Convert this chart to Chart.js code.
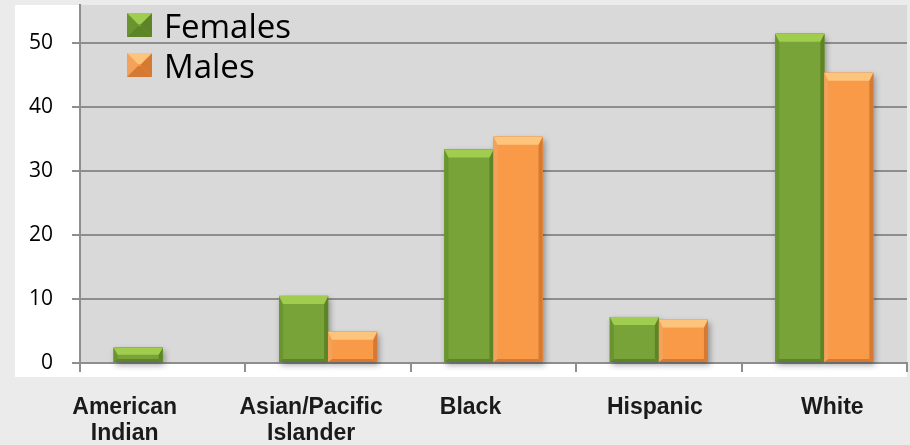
<!DOCTYPE html>
<html>
<head>
<meta charset="utf-8">
<script src="https://cdn.jsdelivr.net/npm/chart.js@4"></script>
<style>
    html, body { margin: 0; padding: 0; background: #ebebeb; }
    #wrap { width: 910px; height: 445px; }
</style>
</head>
<body>
<div id="wrap"><canvas id="chart" width="910" height="445"></canvas></div>
<script>
// Data
const categories = [['American', 'Indian'], ['Asian/Pacific', 'Islander'], ['Black'], ['Hispanic'], ['White']];
const females = [2.4, 10.5, 33.4, 7.2, 51.5];
const males = [null, 4.9, 35.4, 6.8, 45.4];
const yTicks = [0, 10, 20, 30, 40, 50];
const yMax = 56;

// Styles
const palettes = [
    { body: '#78a338', light: '#a0cd4e', side: '#6a942f', dark: '#5d8426' },
    { body: '#f89a48', light: '#fdc47c', side: '#f3a25c', dark: '#d67a33' }
];
const labelShift = [-38, -17, -23, -4, 8];
const labelFont = "bold 23px 'Liberation Sans', Arial, sans-serif";
const gridColor = '#8e8e8e';

function poly(ctx, pts, color) {
    ctx.beginPath();
    ctx.moveTo(pts[0][0], pts[0][1]);
    for (let i = 1; i < pts.length; i++) ctx.lineTo(pts[i][0], pts[i][1]);
    ctx.closePath();
    ctx.fillStyle = color;
    ctx.fill();
}

function bevelRect(ctx, l, t, r, b, pal, bt, bs, bb) {
    ctx.fillStyle = pal.body;
    ctx.fillRect(l, t, r - l, b - t);
    poly(ctx, [[l, t], [l + bs, t + bt], [l + bs, b - bb], [l, b]], pal.side);
    poly(ctx, [[r, t], [r - bs, t + bt], [r - bs, b - bb], [r, b]], pal.dark);
    poly(ctx, [[l, b], [l + bs, b - bb], [r - bs, b - bb], [r, b]], pal.dark);
    poly(ctx, [[l, t], [r, t], [r - bs, t + bt], [l + bs, t + bt]], pal.light);
}

function eachBar(chart, fn) {
    chart.data.datasets.forEach((ds, i) => {
        chart.getDatasetMeta(i).data.forEach((el, j) => {
            if (ds.data[j] == null) return;
            const p = el.getProps(['x', 'y', 'base', 'width'], true);
            fn(p.x - p.width / 2, p.y, p.x + p.width / 2, p.base, palettes[i]);
        });
    });
}

// Background panels
const panelPlugin = {
    id: 'panels',
    beforeDraw(chart) {
        const { ctx, chartArea } = chart;
        ctx.save();
        ctx.fillStyle = '#ffffff';
        ctx.fillRect(15, 5, chartArea.right - 15, chartArea.bottom + 14 - 5);
        ctx.fillStyle = '#d9d9d9';
        ctx.fillRect(chartArea.left, chartArea.top, chartArea.right - chartArea.left, chartArea.bottom - chartArea.top);
        ctx.restore();
    }
};

// 3D-looking bars
const bevelPlugin = {
    id: 'bevel',
    beforeDatasetsDraw(chart) {
        const ctx = chart.ctx;
        ctx.save();
        ctx.shadowColor = 'rgba(0,0,0,0.35)';
        ctx.shadowBlur = 6;
        ctx.shadowOffsetX = 2;
        ctx.shadowOffsetY = 3;
        eachBar(chart, (l, t, r, b, pal) => {
            ctx.fillStyle = pal.dark;
            ctx.fillRect(l, t, r - l, b - t);
        });
        ctx.restore();
    },
    afterDatasetsDraw(chart) {
        const ctx = chart.ctx;
        ctx.save();
        eachBar(chart, (l, t, r, b, pal) => {
            const h = b - t;
            bevelRect(ctx, l, t, r, b, pal, Math.min(8, h / 2), 4, Math.min(3, h / 4));
        });
        ctx.restore();
    }
};

// Legend inside plot area
const legendPlugin = {
    id: 'insideLegend',
    afterDraw(chart) {
        const ctx = chart.ctx;
        ctx.save();
        ctx.font = "33px 'Open Sans', sans-serif";
        ctx.textBaseline = 'alphabetic';
        chart.data.datasets.forEach((ds, i) => {
            const top = 13 + i * 40;
            bevelRect(ctx, 127, top, 152, top + 24, palettes[i], 11, 11, 11);
            ctx.fillStyle = '#000000';
            ctx.fillText(ds.label, 164, top + 25);
        });
        ctx.restore();
    }
};

// Category labels, nudged as in the original
const xLabelPlugin = {
    id: 'xLabels',
    afterDraw(chart) {
        const ctx = chart.ctx;
        const xs = chart.scales.x;
        ctx.save();
        ctx.font = labelFont;
        ctx.fillStyle = '#1a1a1a';
        ctx.textAlign = 'center';
        ctx.textBaseline = 'alphabetic';
        categories.forEach((lines, j) => {
            const x = xs.getPixelForTick(j) + labelShift[j];
            lines.forEach((line, k) => {
                ctx.fillText(line, x, 414 + k * 26);
            });
        });
        ctx.restore();
    }
};

const chart = new Chart(document.getElementById('chart'), {
    type: 'bar',
    data: {
        labels: categories,
        datasets: [
            { label: 'Females', data: females, backgroundColor: palettes[0].body },
            { label: 'Males', data: males, backgroundColor: palettes[1].body }
        ]
    },
    options: {
        responsive: false,
        animation: false,
        layout: { padding: { top: 5, right: 3, left: 0, bottom: 0 } },
        datasets: {
            bar: { barPercentage: 1, categoryPercentage: 0.593, borderWidth: 0 }
        },
        plugins: {
            legend: { display: false },
            tooltip: { enabled: false }
        },
        scales: {
            x: {
                afterFit: s => {
                    s.height = 82;
                    s.paddingLeft = 0;
                    s.paddingRight = 0;
                },
                grid: {
                    offset: true,
                    drawOnChartArea: false,
                    drawTicks: true,
                    tickLength: 9,
                    color: gridColor,
                    lineWidth: 2
                },
                border: { color: gridColor, width: 2 },
                ticks: { display: false }
            },
            y: {
                min: 0,
                max: yMax,
                afterFit: s => {
                    s.width = 80;
                    s.paddingTop = 0;
                    s.paddingBottom = 0;
                },
                afterBuildTicks: axis => {
                    axis.ticks = yTicks.map(v => ({ value: v }));
                },
                grid: {
                    color: gridColor,
                    lineWidth: 2,
                    tickLength: 8
                },
                border: { color: gridColor, width: 2 },
                ticks: {
                    padding: 19,
                    color: '#000000',
                    font: { family: "'Open Sans', sans-serif", size: 21 }
                }
            }
        }
    },
    plugins: [panelPlugin, bevelPlugin, legendPlugin, xLabelPlugin]
});
</script>
</body>
</html>
